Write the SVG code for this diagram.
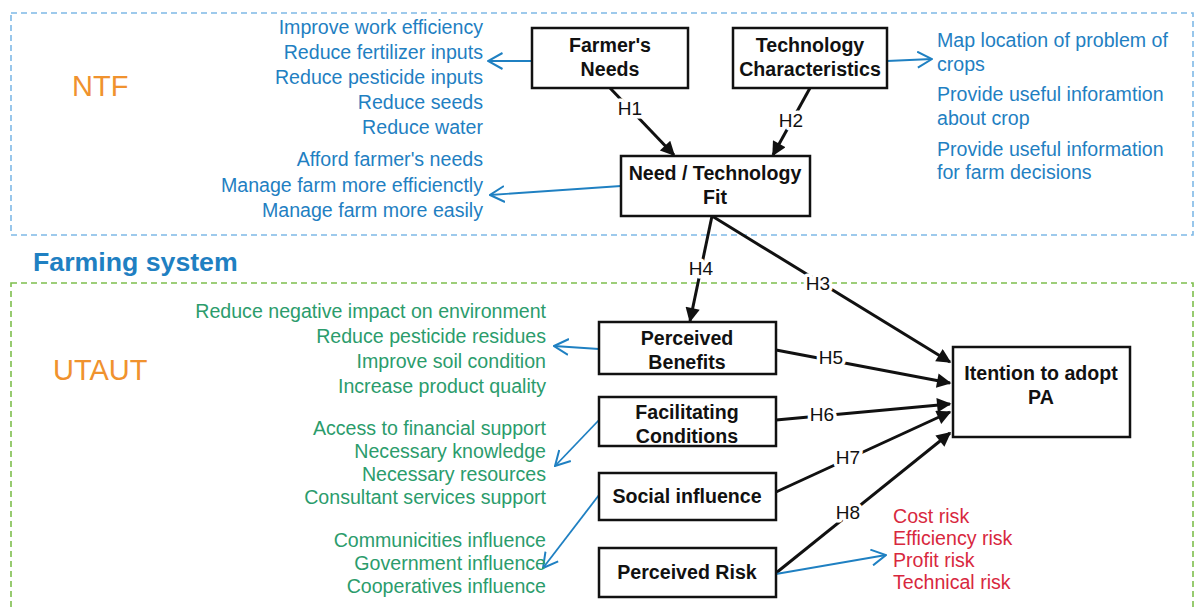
<svg xmlns="http://www.w3.org/2000/svg" width="1196" height="610" viewBox="0 0 1196 610">
<defs>
<style>
.bg{fill:#ffffff}
.zone-ntf{fill:none;stroke:#7fb9e6;stroke-width:1.6;stroke-dasharray:6 4}
.zone-utaut{fill:none;stroke:#7ebf4e;stroke-width:1.6;stroke-dasharray:6 4}
.box{fill:#ffffff;stroke:#111111;stroke-width:2.5}
.nt{font-family:"Liberation Sans",Arial,sans-serif;font-weight:bold;font-size:19.6px;fill:#111111;text-anchor:middle}
.lst{font-family:"Liberation Sans",Arial,sans-serif;font-size:19.6px}
.blue{fill:#1f80c2}
.green{fill:#2b9c6c}
.red{fill:#d8283e}
.orange{font-family:"Liberation Sans",Arial,sans-serif;font-size:29px;fill:#f0922e}
.title{font-family:"Liberation Sans",Arial,sans-serif;font-size:26.7px;font-weight:bold;fill:#1f80c2}
.r{text-anchor:end}
.blk{fill:none;stroke:#111111;stroke-width:3;marker-end:url(#ah)}
.bl{fill:none;stroke:#1f80c2;stroke-width:1.8;marker-end:url(#oh)}
.hl{font-family:"Liberation Sans",Arial,sans-serif;font-size:19px;fill:#111111;text-anchor:middle;stroke:#ffffff;stroke-width:7;paint-order:stroke;stroke-linejoin:round}
</style>
<marker id="ah" viewBox="0 0 10 10" refX="9" refY="5" markerWidth="6.2" markerHeight="4.8" markerUnits="strokeWidth" orient="auto">
<path d="M0,0 L10,5 L0,10 Z" fill="#111111"/>
</marker>
<marker id="oh" viewBox="0 0 16 18" refX="15" refY="9" markerWidth="16" markerHeight="18" markerUnits="userSpaceOnUse" orient="auto">
<path d="M0.5,1 L15,9 L0.5,17" fill="none" stroke="#1f80c2" stroke-width="2"/>
</marker>
</defs>
<rect class="bg" x="0" y="0" width="1196" height="610"/>

<g id="zones">
<rect class="zone-ntf" x="11" y="13" width="1182" height="222"/>
<rect class="zone-utaut" x="11" y="283" width="1182" height="340"/>
<text class="orange" x="72" y="96">NTF</text>
<text class="orange" x="53" y="380">UTAUT</text>
<text class="title" x="33" y="271">Farming system</text>
</g>

<g id="connectors">
<line class="blk" x1="610" y1="88" x2="674" y2="155"/>
<line class="blk" x1="810" y1="88" x2="773" y2="155"/>
<line class="blk" x1="712" y1="216" x2="950" y2="362"/>
<line class="blk" x1="712" y1="216" x2="690" y2="321"/>
<line class="blk" x1="776" y1="350" x2="950" y2="383"/>
<line class="blk" x1="776" y1="420" x2="950" y2="404"/>
<line class="blk" x1="776" y1="492" x2="950" y2="412"/>
<line class="blk" x1="776" y1="573" x2="950" y2="433"/>
<text class="hl" x="630" y="115">H1</text>
<text class="hl" x="791" y="127">H2</text>
<text class="hl" x="818" y="290">H3</text>
<text class="hl" x="701" y="275">H4</text>
<text class="hl" x="831" y="364">H5</text>
<text class="hl" x="822" y="421">H6</text>
<text class="hl" x="848" y="464">H7</text>
<text class="hl" x="848" y="519">H8</text>
<line class="bl" x1="532" y1="61" x2="488" y2="61"/>
<line class="bl" x1="887" y1="61" x2="932" y2="59"/>
<line class="bl" x1="621" y1="186" x2="490" y2="195"/>
<line class="bl" x1="599" y1="349" x2="554" y2="346"/>
<line class="bl" x1="599" y1="420" x2="555" y2="466"/>
<line class="bl" x1="599" y1="495" x2="543" y2="568"/>
<line class="bl" x1="776" y1="574" x2="886" y2="555"/>
</g>

<g id="farmers-needs">
<rect class="box" x="532" y="28" width="156" height="60"/>
<text class="nt" x="610" y="52">Farmer's</text>
<text class="nt" x="610" y="76">Needs</text>
</g>
<g id="technology-characteristics">
<rect class="box" x="733" y="28" width="154" height="60"/>
<text class="nt" x="810" y="52">Technology</text>
<text class="nt" x="810" y="76">Characteristics</text>
</g>
<g id="need-technology-fit">
<rect class="box" x="621" y="156" width="189" height="60"/>
<text class="nt" x="715" y="180">Need / Technology</text>
<text class="nt" x="715" y="204">Fit</text>
</g>
<g id="perceived-benefits">
<rect class="box" x="599" y="322" width="177" height="52"/>
<text class="nt" x="687" y="345">Perceived</text>
<text class="nt" x="687" y="369">Benefits</text>
</g>
<g id="facilitating-conditions">
<rect class="box" x="599" y="397" width="177" height="49"/>
<text class="nt" x="687" y="419">Facilitating</text>
<text class="nt" x="687" y="443">Conditions</text>
</g>
<g id="social-influence">
<rect class="box" x="599" y="473" width="177" height="47"/>
<text class="nt" x="687" y="503">Social influence</text>
</g>
<g id="perceived-risk">
<rect class="box" x="599" y="548" width="177" height="49"/>
<text class="nt" x="687" y="579">Perceived Risk</text>
</g>
<g id="intention">
<rect class="box" x="953" y="347" width="177" height="90"/>
<text class="nt" x="1041" y="380">Itention to adopt</text>
<text class="nt" x="1041" y="404">PA</text>
</g>

<g id="farmer-needs-list" class="lst blue r">
<text x="483" y="34">Improve work efficiency</text>
<text x="483" y="59">Reduce fertilizer inputs</text>
<text x="483" y="84">Reduce pesticide inputs</text>
<text x="483" y="109">Reduce seeds</text>
<text x="483" y="134">Reduce water</text>
<text x="483" y="166">Afford farmer's needs</text>
<text x="483" y="192">Manage farm more efficienctly</text>
<text x="483" y="217">Manage farm more easily</text>
</g>
<g id="tech-list" class="lst blue">
<text x="937" y="47">Map location of problem of</text>
<text x="937" y="71">crops</text>
<text x="937" y="101">Provide useful inforamtion</text>
<text x="937" y="125">about crop</text>
<text x="937" y="156">Provide useful information</text>
<text x="937" y="179">for farm decisions</text>
</g>
<g id="utaut-lists" class="lst green r">
<text x="546" y="318">Reduce negative impact on environment</text>
<text x="546" y="343">Reduce pesticide residues</text>
<text x="546" y="368">Improve soil condition</text>
<text x="546" y="393">Increase product quality</text>
<text x="546" y="435">Access to financial support</text>
<text x="546" y="458">Necessary knowledge</text>
<text x="546" y="481">Necessary resources</text>
<text x="546" y="504">Consultant services support</text>
<text x="546" y="547">Communicities influence</text>
<text x="546" y="570">Government influence</text>
<text x="546" y="593">Cooperatives influence</text>
</g>
<g id="risk-list" class="lst red">
<text x="893" y="523">Cost risk</text>
<text x="893" y="545">Efficiency risk</text>
<text x="893" y="567">Profit risk</text>
<text x="893" y="589">Technical risk</text>
</g>
</svg>
